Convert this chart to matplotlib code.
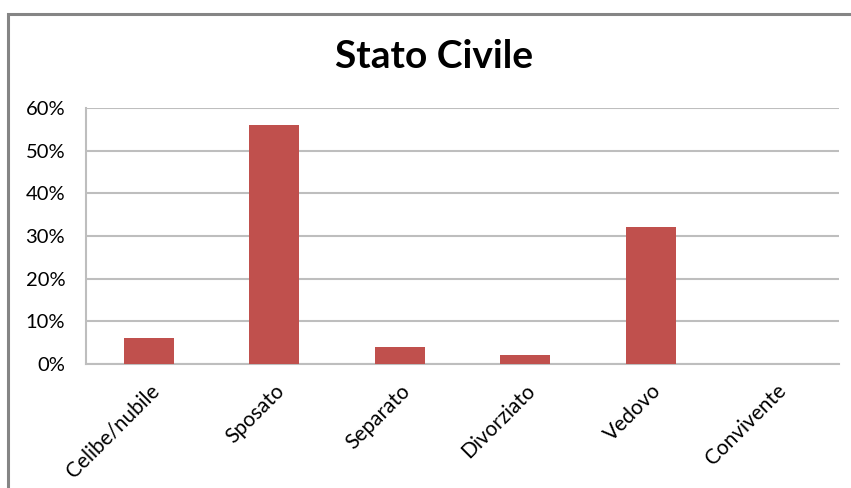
import matplotlib
matplotlib.use("Agg")
import matplotlib.pyplot as plt
from matplotlib.patches import Rectangle
from matplotlib.ticker import FuncFormatter, MultipleLocator

categories = ["Celibe/nubile", "Sposato", "Separato", "Divorziato", "Vedovo", "Convivente"]
values = [6, 56, 4, 2, 32, 0]
title = "Stato Civile"

W, H = 851, 488
fig = plt.figure(figsize=(W / 100, H / 100), dpi=100)
plt.rcParams['font.family'] = ['Lato', 'DejaVu Sans']

# outer chart frame (partially cropped)
fig.patches.append(Rectangle((8 / W, -0.1), 1.2, (H - 14) / H + 0.1, transform=fig.transFigure,
                             fill=False, edgecolor="#858585", linewidth=2.2))

ax = fig.add_axes([86 / W, 1 - 364 / H, (839 - 86) / W, (364 - 108) / H])
x = range(len(categories))
ax.bar(x, values, width=0.4, color="#C0504D", zorder=3)
ax.set_xlim(-0.5, len(categories) - 0.5)
ax.set_ylim(0, 60)
ax.yaxis.set_major_locator(MultipleLocator(10))
ax.yaxis.set_major_formatter(FuncFormatter(lambda v, p: f"{int(v)}%"))
ax.grid(axis="y", color="#BEBEBE", linewidth=1.5, zorder=0)
for s in ["top", "right"]:
    ax.spines[s].set_visible(False)
for s in ["left", "bottom"]:
    ax.spines[s].set_color("#BEBEBE")
    ax.spines[s].set_linewidth(1.5)
ax.tick_params(axis="y", length=0, labelsize=14.5, colors="#000000", pad=15)
ax.tick_params(axis="x", length=0, labelsize=15, colors="#000000", pad=12)
ax.set_xticks(list(x))
ax.set_xticklabels(categories, rotation=45, ha="right", rotation_mode="anchor")

fig.text(434 / W, 1 - 57 / H, title, ha="center", va="center", fontsize=28, fontweight="bold")

fig.savefig("out.png", dpi=100)
